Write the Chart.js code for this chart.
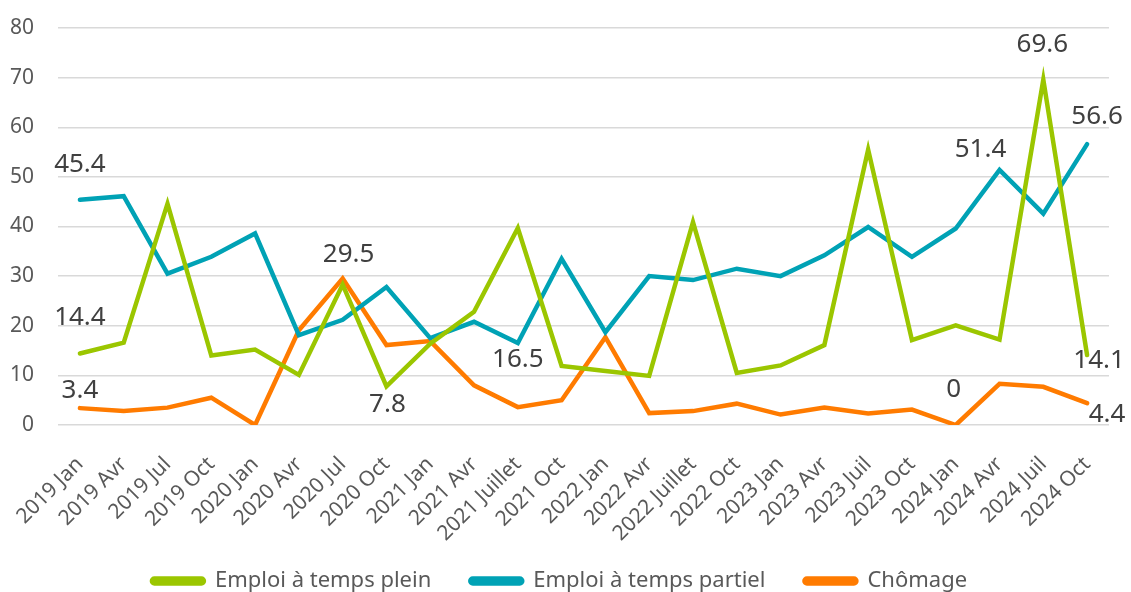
<!DOCTYPE html>
<html>
<head>
<meta charset="utf-8">
<script src="https://cdn.jsdelivr.net/npm/chart.js@4/dist/chart.umd.min.js"></script>
<style>
  html, body { margin: 0; padding: 0; background: #fff; }
  #wrap { width: 1131px; height: 592px; }
</style>
</head>
<body>
<div id="wrap"><canvas id="chart" width="1131" height="592"></canvas></div>
<script>
const categories = [
  "2019 Jan", "2019 Avr", "2019 Jul", "2019 Oct",
  "2020 Jan", "2020 Avr", "2020 Jul", "2020 Oct",
  "2021 Jan", "2021 Avr", "2021 Juillet", "2021 Oct",
  "2022 Jan", "2022 Avr", "2022 Juillet", "2022 Oct",
  "2023 Jan", "2023 Avr", "2023 Juil", "2023 Oct",
  "2024 Jan", "2024 Avr", "2024 Juil", "2024 Oct"
];
const tempsPlein = [14.4, 16.6, 44.6, 14.0, 15.2, 10.1, 28.3, 7.8, 16.4, 22.8, 39.7, 11.9,
  10.9, 9.9, 40.9, 10.5, 12.0, 16.1, 55.5, 17.1, 20.1, 17.2, 69.6, 14.1];
const tempsPartiel = [45.4, 46.1, 30.5, 33.9, 38.6, 18.1, 21.2, 27.8, 17.5, 20.8, 16.5, 33.5,
  18.7, 30.0, 29.2, 31.5, 30.0, 34.2, 39.9, 33.9, 39.6, 51.4, 42.6, 56.6];
const chomage = [3.4, 2.8, 3.5, 5.5, 0, 19.1, 29.5, 16.1, 16.9, 8.0, 3.6, 5.0,
  17.7, 2.4, 2.8, 4.3, 2.1, 3.5, 2.3, 3.1, 0, 8.3, 7.7, 4.4];
const yTicks = [0, 10, 20, 30, 40, 50, 60, 70, 80];

// which points carry a value label (dataset index, point index) and where it sits
const labelled = [
  { ds: 1, i: 0, dx: 0, dy: -35 },
  { ds: 0, i: 0, dx: 0, dy: -36 },
  { ds: 2, i: 0, dx: 0, dy: -18 },
  { ds: 2, i: 6, dx: 6, dy: -24 },
  { ds: 0, i: 7, dx: 1, dy: 18 },
  { ds: 1, i: 10, dx: 0, dy: 16 },
  { ds: 2, i: 20, dx: -2, dy: -35 },
  { ds: 1, i: 21, dx: -19, dy: -20 },
  { ds: 0, i: 22, dx: -1, dy: -35 },
  { ds: 1, i: 23, dx: 10, dy: -28 },
  { ds: 0, i: 23, dx: 12, dy: 6 },
  { ds: 2, i: 23, dx: 20, dy: 11 }
];

const FONT = "'Noto Sans', 'Liberation Sans', sans-serif";

// simple value labels drawn from the dataset points
const valueLabels = {
  id: "valueLabels",
  afterDatasetsDraw(chart) {
    const ctx = chart.ctx;
    ctx.save();
    ctx.font = "26px " + FONT;
    ctx.fillStyle = "#404040";
    ctx.textAlign = "center";
    ctx.textBaseline = "middle";
    labelled.forEach((l) => {
      const pt = chart.getDatasetMeta(l.ds).data[l.i];
      const v = chart.data.datasets[l.ds].data[l.i];
      ctx.fillText(String(v), pt.x + l.dx, pt.y + l.dy);
    });
    ctx.restore();
  }
};

function lineSet(label, data, color) {
  return {
    label,
    data,
    borderColor: color,
    backgroundColor: color,
    borderWidth: 4.5,
    borderCapStyle: "round",
    borderJoinStyle: "miter",
    pointRadius: 0,
    pointHoverRadius: 0,
    tension: 0,
    fill: false
  };
}

new Chart(document.getElementById("chart"), {
  type: "line",
  data: {
    labels: categories,
    datasets: [
      lineSet("Emploi à temps plein", tempsPlein, "#9bc600"),
      lineSet("Emploi à temps partiel", tempsPartiel, "#00a2b5"),
      lineSet("Chômage", chomage, "#ff7b00")
    ]
  },
  options: {
    responsive: false,
    animation: false,
    layout: { padding: { left: 10, right: 22, top: 28, bottom: -10 } },
    plugins: {
      legend: {
        position: "bottom",
        labels: {
          font: { family: FONT, size: 22 },
          color: "#595959",
          boxWidth: 52,
          boxHeight: 5,
          useBorderRadius: true,
          borderRadius: 2.5,
          padding: 39
        }
      },
      tooltip: { enabled: false }
    },
    scales: {
      x: {
        offset: true,
        grid: { display: false },
        border: { display: false },
        ticks: {
          font: { family: FONT, size: 21 },
          color: "#595959",
          minRotation: 45,
          maxRotation: 45,
          autoSkip: false,
          padding: 19
        },
        afterFit(scale) {
          // let the rotated labels hang outside, and fix the band height
          scale.paddingLeft = 0;
          scale.paddingRight = 0;
          scale.height = 106;
          // don't cut the long labels at the band's bottom edge
          scale._computeLabelArea = () => ({
            top: scale.top, left: 0, bottom: scale.chart.height, right: scale.chart.width
          });
        }
      },
      y: {
        min: 0,
        max: 80,
        afterBuildTicks(axis) {
          axis.ticks = yTicks.map((v) => ({ value: v }));
        },
        afterFit(scale) {
          // chart.js counts tick padding twice; keep it once
          scale.width -= 24;
          scale.paddingTop = 0;
          scale.paddingBottom = 0;
        },
        grid: { color: "#d9d9d9", lineWidth: 1.5, drawTicks: false },
        border: { display: false },
        ticks: {
          font: { family: FONT, size: 21 },
          color: "#595959",
          padding: 24
        }
      }
    }
  },
  plugins: [valueLabels]
});
</script>
</body>
</html>
